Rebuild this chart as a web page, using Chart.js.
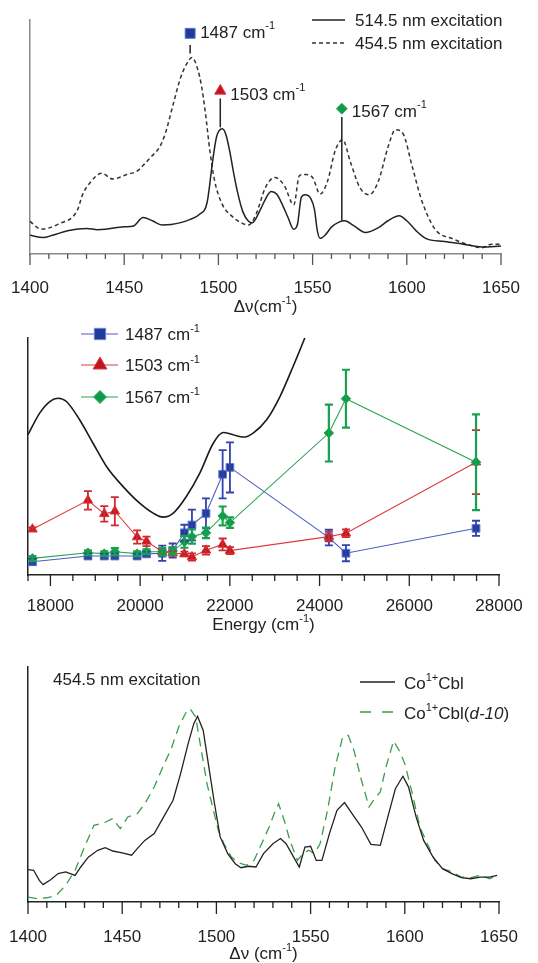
<!DOCTYPE html>
<html><head><meta charset="utf-8">
<script src="https://cdn.jsdelivr.net/npm/chart.js@4.4.1/dist/chart.umd.min.js"></script>
<style>
html,body{margin:0;padding:0;background:#fff;}
body{width:538px;height:963px;position:relative;overflow:hidden;}
canvas{position:absolute;left:0;}
</style></head><body>
<canvas id="c1" width="538" height="320" style="top:0;width:538px;height:320px"></canvas>
<canvas id="c2" width="538" height="320" style="top:320px;width:538px;height:320px"></canvas>
<canvas id="c3" width="538" height="323" style="top:640px;width:538px;height:323px"></canvas>
<script>
// ================= DATA =================
// Panel 1: resonance Raman spectra
const ramanTicks = [1400, 1450, 1500, 1550, 1600, 1650];
const wn514 = [1400,1407,1412,1420,1430,1436,1440,1450,1455,1460,1465,1470,1475,1480,1485,1490,1494,1497,1499,1502,1504,1506,1508,1510,1513,1516,1518,1522,1525,1528,1531,1534,1537,1540,1542,1544,1546,1549,1551,1552.5,1554,1557,1560,1564,1567,1572,1578,1585,1590,1596,1600,1605,1610,1620,1630,1640,1650];
const int514 = [8.0,7.0,8.0,9.9,10.9,10.4,10.6,11.6,12.0,15.6,14.2,12.4,12.6,13.4,14.8,17.0,22.0,40.0,50.0,53.5,51.0,44.0,35.0,27.0,18.0,14.0,13.4,18.5,23.5,26.7,25.5,21.0,15.5,10.6,12.8,24.2,25.3,23.8,19.0,10.0,6.7,8.4,11.5,13.6,14.2,12.0,9.2,11.3,14.2,16.3,14.2,9.9,6.7,5.3,4.2,3.0,3.4];
const wn454 = [1400,1406,1415,1425,1428,1432,1438,1444,1451,1457,1460,1464,1469,1472,1476,1480,1483,1486,1489,1491,1493,1495.5,1498,1502,1507,1512,1516,1520,1525,1530,1535,1540,1543,1546,1550,1554,1558,1562,1566,1570,1575,1580,1585,1590,1594,1598,1603,1608,1615,1625,1635,1640,1645,1650];
const int454 = [13.9,10.6,12.8,18.5,25.6,30.6,34.5,32.0,33.9,35.5,37.8,41.3,46,52,64,75.5,81,84,79,72,61,44,31.3,21.3,16.3,13.4,12.4,17.0,28.5,32.7,29.2,21.0,33.5,34.0,32.7,25.6,31.3,44.2,48.8,39.5,28.5,25.3,31.3,45.6,53.1,51.4,37.0,22.7,10.6,6.3,3.4,2.7,4.2,4.2];
const peakLabels = ['1487', '1503', '1567'];
const peakWn = [1485, 1501, 1565.5];
const peakMarkY = [94.3, 69.7, 62.1];
const peakLineTop = [89.3, 66.4, 58.5];
const peakLineBot = [85.7, 54.2, 14.2];

// Panel 2: excitation profiles
const energyTicks = [18000, 20000, 22000, 24000, 26000, 28000];
const laserE = [17599,18836,19201,19436,19932,20141,20492,20725,20986,21155,21468,21839,22002,24207,24588,27488];
const i1487 = [5.6,8.0,8.0,8.0,8.0,8.9,9.2,10.3,17.8,21.1,26.0,42.5,45.4,15.8,9.2,19.7];
const err1487 = [1.2,1.0,1.0,1.0,1.0,1.0,3.2,3.0,3.4,6.5,6.3,10.2,10.6,3.3,3.4,3.2];
const i1503 = [19.3,31.5,25.8,26.9,16.0,14.2,9.8,9.2,8.9,7.6,10.4,12.9,10.3,16.2,17.6,47.6];
const err1503 = [0.8,3.9,3.3,6.0,2.8,2.0,1.2,1.0,1.0,1.5,1.8,2.5,1.5,2.0,1.6,13.5];
const i1567 = [7.0,9.4,9.0,9.8,9.0,9.8,9.8,10.1,14.0,16.2,17.8,24.9,22.1,59.9,74.4,47.6];
const err1567 = [1.0,1.0,1.0,1.5,1.0,1.0,1.5,1.5,2.5,3.0,2.2,4.0,2.2,12.0,12.2,20.2];
const absE = [17500,17760,17985,18170,18357,18650,18950,19250,19620,19990,20290,20510,20740,21030,21330,21630,21850,22070,22300,22520,22820,23120,23410,23670,23750];
const absI = [59.2,68.3,73.2,74.6,73.2,65.5,55.6,45.8,37.3,30.3,26.1,24.4,26.1,33.1,43.0,55.6,60.1,59.2,58.2,59.9,65.5,75.4,88.0,100,104];

// Panel 3: Co1+Cbl vs Co1+Cbl(d-10)
const wnCo = [1400,1403,1406,1408,1412,1416,1420,1425,1428,1432,1437,1441,1445,1450,1455,1458,1462,1467,1472,1477,1481,1485,1488,1490,1493,1496,1499,1502,1506,1510,1513,1517,1521,1525,1530,1534,1537,1541,1544,1547,1550,1553,1556,1560,1564,1568,1572,1577,1582,1587,1591,1595,1599,1602,1606,1610,1615,1620,1625,1630,1635,1640,1645,1649];
const intCo = [13.8,13.5,9.2,7.4,9.5,12.1,12.8,11.3,14.9,19.1,22.0,23.1,21.7,20.9,19.9,22.7,26.2,29.1,36.2,43.3,54.6,67.4,75.9,79.0,73.0,57.4,41.8,27.7,20.6,16.3,14.6,15.2,14.9,20.6,24.8,27.0,24.8,19.1,14.9,23.4,23.7,17.7,17.7,29.1,39.0,42.3,37.6,31.9,24.5,24.1,36.2,48.2,53.5,48.9,36.2,26.2,19.1,14.2,12.1,10.4,9.9,10.6,10.6,11.3];
const wnD10 = [1400,1405,1410,1415,1420,1425,1430,1435,1440,1445,1449,1453,1458,1462,1467,1472,1476,1480,1484,1486,1489,1492,1495,1498,1501,1504,1508,1512,1516,1520,1524,1528,1531,1533,1536,1539,1543,1546,1549,1552,1555,1559,1563,1567,1570,1573,1577,1581,1584,1587,1590,1594,1597,1600,1604,1608,1612,1616,1620,1625,1630,1635,1640,1645,1649];
const intD10 = [2.1,1.4,1.8,2.8,7.1,13.5,23.4,32.6,33.6,35.5,31.2,36.2,37.6,41.8,48.9,58.2,65.2,74.5,80.9,82.3,78.7,64.5,50.4,40.4,30.5,24.8,19.1,16.6,15.6,17.7,24.8,31.9,38.3,41.8,34.8,26.2,17.7,20.6,22.0,20.6,24.8,39.0,57.4,70.2,70.9,64.5,51.8,40.4,44.0,46.8,57.4,68.5,64.5,58.9,46.1,31.9,24.8,17.7,14.2,12.8,10.6,10.4,11.3,9.9,11.3];

// ================= HELPERS =================
const FONT = "'Liberation Sans', Arial, Helvetica, sans-serif";
Chart.defaults.font.family = FONT;
Chart.defaults.font.size = 17;
Chart.defaults.color = '#222';
Chart.defaults.animation = false;

function xy(xs, ys) { return xs.map((x, i) => ({x: x, y: ys[i]})); }
const T = t => ({t: t}), S = t => ({t: t, s: true}), I = t => ({t: t, i: true});

function rich(ctx, x, y, parts, align, size) {
  size = size || 17;
  const sup = Math.round(size * 0.66);
  const fontOf = p => (p.i ? 'italic ' : '') + (p.s ? sup : size) + 'px ' + FONT;
  let w = 0;
  const ws = parts.map(p => { ctx.font = fontOf(p); const m = ctx.measureText(p.t).width; w += m; return m; });
  let cx = align === 'center' ? x - w / 2 : x;
  ctx.save();
  ctx.textBaseline = 'alphabetic'; ctx.textAlign = 'left'; ctx.fillStyle = '#222';
  parts.forEach((p, k) => { ctx.font = fontOf(p); ctx.fillText(p.t, cx, p.s ? y - size * 0.5 : y); cx += ws[k]; });
  ctx.restore();
}

function tickMarks(chart, isMajor, majLen, minLen, color, width) {
  const s = chart.scales.x, ctx = chart.ctx;
  ctx.save(); ctx.strokeStyle = color; ctx.lineWidth = width;
  s.ticks.forEach(t => {
    const px = s.getPixelForValue(t.value);
    const len = isMajor(t.value) ? majLen : minLen;
    ctx.beginPath(); ctx.moveTo(px, s.top); ctx.lineTo(px, s.top + len); ctx.stroke();
  });
  ctx.restore();
}

function lineSample(ctx, x1, x2, y, color, width, dash) {
  ctx.save(); ctx.strokeStyle = color; ctx.lineWidth = width; ctx.setLineDash(dash || []);
  ctx.beginPath(); ctx.moveTo(x1, y); ctx.lineTo(x2, y); ctx.stroke(); ctx.restore();
}

function xScale(min, max, step, labels, h, pad, border) {
  return {
    type: 'linear', min: min, max: max,
    afterFit: s => { s.height = h; s.paddingLeft = 0; s.paddingRight = 0; },
    border: border,
    grid: {display: false, drawTicks: false},
    ticks: {stepSize: step, autoSkip: false, maxRotation: 0, padding: pad, color: '#222',
      callback: v => labels.includes(v) ? String(v) : ''}
  };
}
function yScale(border) {
  return {min: 0, max: 100, afterFit: s => { s.width = 0; s.paddingTop = 0; s.paddingBottom = 0; }, border: border,
    grid: {display: false, drawTicks: false}, ticks: {display: false}};
}

// ================= PANEL 1 =================
new Chart(document.getElementById('c1'), {
  type: 'line',
  data: {datasets: [
    {label: '514.5 nm excitation', data: xy(wn514, int514), borderColor: '#222', borderWidth: 1.5,
     pointRadius: 0, cubicInterpolationMode: 'monotone', order: 2},
    {label: '454.5 nm excitation', data: xy(wn454, int454), borderColor: '#333', borderWidth: 1.5,
     borderDash: [4, 3], pointRadius: 0, cubicInterpolationMode: 'monotone', order: 3}
  ].concat(peakWn.map((w, i) => ({
    label: peakLabels[i] + ' line', data: [{x: w, y: peakLineTop[i]}, {x: w, y: peakLineBot[i]}],
    borderColor: '#222', borderWidth: 1.5, pointRadius: 0, order: 1
  }))).concat([{
    label: 'peak markers', data: peakWn.map((w, i) => ({x: w, y: peakMarkY[i]})), showLine: false,
    pointStyle: ['rect', 'triangle', 'rectRot'], pointRadius: [7, 6.5, 5.5],
    pointBackgroundColor: ['#1f3c9c', '#c8141e', '#13994a'],
    pointBorderColor: ['#5a6fc8', '#d83a40', '#3aae66'], pointBorderWidth: 1, order: 0
  }])},
  options: {
    responsive: false, animation: false,
    layout: {padding: {left: 30, right: 37, top: 20, bottom: 0}},
    plugins: {legend: {display: false}, tooltip: {enabled: false}},
    scales: {
      x: xScale(1400, 1650, 10, ramanTicks, 66, 24, {color: '#8a8a8a', width: 1.5}),
      y: yScale({color: '#8a8a8a', width: 1.5})
    }
  },
  plugins: [{id: 'deco1', afterDraw(chart) {
    const ctx = chart.ctx, a = chart.chartArea, xs = chart.scales.x, ys = chart.scales.y;
    tickMarks(chart, v => ramanTicks.includes(v), 11, 5, '#555', 1.3);
    rich(ctx, (a.left + a.right) / 2, 312, [T('\u0394\u03bd(cm'), S('-1'), T(')')], 'center');
    const dy = [4.5, 9, 8];
    peakWn.forEach((w, i) => {
      rich(ctx, xs.getPixelForValue(w) + 10, ys.getPixelForValue(peakMarkY[i]) + dy[i], [T(peakLabels[i] + ' cm'), S('-1')]);
    });
    lineSample(ctx, 312, 345, 20, '#222', 1.5);
    rich(ctx, 355, 26, [T('514.5 nm excitation')]);
    lineSample(ctx, 312, 345, 43, '#333', 1.5, [4, 3]);
    rich(ctx, 355, 49, [T('454.5 nm excitation')]);
  }}]
});

// ================= PANEL 2 =================
const profStyles = [
  {name: '1487', vals: i1487, errs: err1487, line: '#4a5cc0', fill: '#1d3c9e', edge: '#6f80d4', style: 'rect', r: 5.5, lr: 8, ec: '#3243aa', ew: 1.8},
  {name: '1503', vals: i1503, errs: err1503, line: '#dd3b3b', fill: '#c3141e', edge: '#d83a40', style: 'triangle', r: 5.5, lr: 8, ec: '#d02a30', ew: 1.8},
  {name: '1567', vals: i1567, errs: err1567, line: '#27a452', fill: '#0f9a48', edge: '#30ac5e', style: 'rectRot', r: 4.8, lr: 6.5, ec: '#17a050', ew: 2.2}
];
new Chart(document.getElementById('c2'), {
  type: 'line',
  data: {datasets: [
    {label: 'absorption', data: xy(absE, absI), borderColor: '#1a1a1a', borderWidth: 1.6, pointRadius: 0,
     cubicInterpolationMode: 'monotone', order: 3}
  ].concat(profStyles.map((p, k) => ({
    label: p.name + ' cm-1', data: xy(laserE, p.vals), borderColor: p.line, borderWidth: 1.1,
    pointStyle: p.style, pointRadius: p.r, pointBackgroundColor: p.fill, pointBorderColor: p.edge,
    pointBorderWidth: 1, order: 2 - k
  })))},
  options: {
    responsive: false, animation: false,
    layout: {padding: {left: 28, right: 39, top: 18, bottom: 0}},
    plugins: {legend: {display: false}, tooltip: {enabled: false}},
    scales: {
      x: xScale(17500, 28000, 500, energyTicks, 65, 21, {color: '#222', width: 1.5}),
      y: yScale({color: '#222', width: 1.5})
    }
  },
  plugins: [{id: 'deco2', afterDatasetsDraw(chart) {
    const ctx = chart.ctx, ys = chart.scales.y;
    profStyles.forEach((p, k) => {
      const meta = chart.getDatasetMeta(k + 1);
      ctx.save(); ctx.strokeStyle = p.ec; ctx.lineWidth = p.ew;
      p.vals.forEach((v, i) => {
        const px = meta.data[i].x, cap = 4;
        const yt = ys.getPixelForValue(v + p.errs[i]), yb = ys.getPixelForValue(v - p.errs[i]);
        ctx.beginPath();
        ctx.moveTo(px, yt); ctx.lineTo(px, yb);
        ctx.moveTo(px - cap, yt); ctx.lineTo(px + cap, yt);
        ctx.moveTo(px - cap, yb); ctx.lineTo(px + cap, yb);
        ctx.stroke();
      });
      ctx.restore();
    });
  }, afterDraw(chart) {
    const ctx = chart.ctx, a = chart.chartArea;
    tickMarks(chart, v => energyTicks.includes(v), 11, 6, '#222', 1.3);
    rich(ctx, (a.left + a.right) / 2, 310, [T('Energy (cm'), S('-1'), T(')')], 'center');
    const rowY = [14, 45, 77];
    profStyles.forEach((p, k) => {
      lineSample(ctx, 81, 118, rowY[k], p.line, 1.2);
      ctx.save();
      ctx.fillStyle = p.fill; ctx.strokeStyle = p.edge; ctx.lineWidth = 1;
      Chart.helpers.drawPoint(ctx, {pointStyle: p.style, radius: p.lr, borderWidth: 1, rotation: 0}, 100, rowY[k]);
      ctx.restore();
      rich(ctx, 125, rowY[k] + 6, [T(p.name + ' cm'), S('-1')]);
    });
  }}]
});

// ================= PANEL 3 =================
new Chart(document.getElementById('c3'), {
  type: 'line',
  data: {datasets: [
    {label: 'Co1+Cbl', data: xy(wnCo, intCo), borderColor: '#222', borderWidth: 1.3, pointRadius: 0, order: 0},
    {label: 'Co1+Cbl(d-10)', data: xy(wnD10, intD10), borderColor: '#3a9e4c', borderWidth: 1.3,
     borderDash: [9, 6], pointRadius: 0, order: 1}
  ]},
  options: {
    responsive: false, animation: false,
    layout: {padding: {left: 28, right: 39, top: 27, bottom: 0}},
    plugins: {legend: {display: false}, tooltip: {enabled: false}},
    scales: {
      x: xScale(1400, 1650, 10, ramanTicks, 61, 25, {color: '#222', width: 1.5}),
      y: yScale({color: '#222', width: 1.5})
    }
  },
  plugins: [{id: 'deco3', afterDraw(chart) {
    const ctx = chart.ctx, a = chart.chartArea;
    tickMarks(chart, v => ramanTicks.includes(v), 12, 6, '#222', 1.3);
    rich(ctx, (a.left + a.right) / 2, 319, [T('\u0394\u03bd (cm'), S('-1'), T(')')], 'center');
    rich(ctx, 53, 45, [T('454.5 nm excitation')]);
    lineSample(ctx, 360, 395, 42, '#222', 1.5);
    rich(ctx, 404, 49, [T('Co'), S('1+'), T('Cbl')]);
    lineSample(ctx, 360, 395, 72, '#3a9e4c', 1.5, [11, 11]);
    rich(ctx, 404, 79, [T('Co'), S('1+'), T('Cbl('), I('d-10'), T(')')]);
  }}]
});
</script>
</body></html>
